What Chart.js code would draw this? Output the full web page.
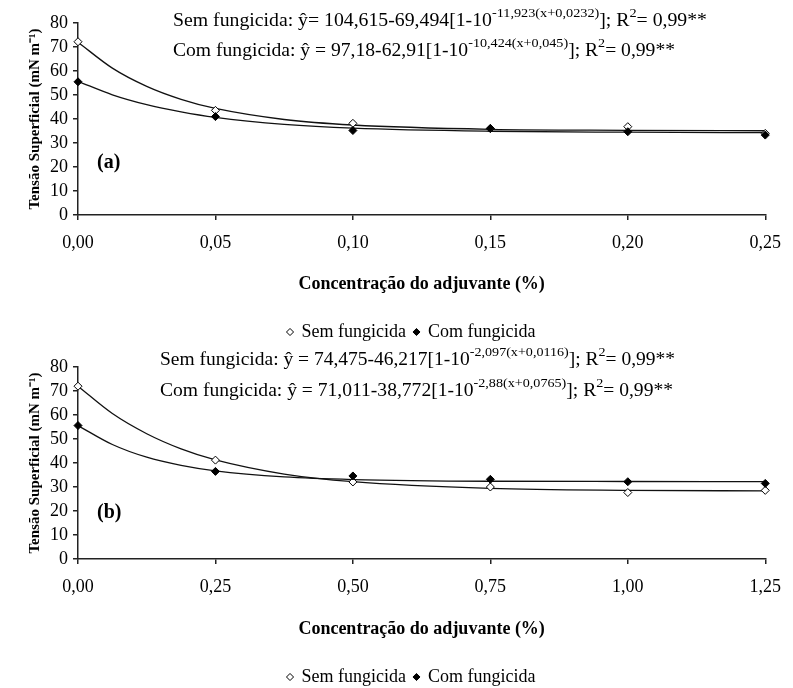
<!DOCTYPE html>
<html>
<head>
<meta charset="utf-8">
<script src="https://cdn.jsdelivr.net/npm/chart.js@4"></script>
<style>
html,body{margin:0;padding:0;background:#fff;overflow:hidden;width:793px;height:688px}
canvas{position:absolute;left:0}
</style>
</head>
<body>
<canvas id="chartA" width="793" height="351" style="top:0"></canvas>
<canvas id="chartB" width="793" height="352" style="top:344px"></canvas>
<script>
// ── Data: panel (a) ──────────────────────────
const xTicksA = [0, 0.05, 0.10, 0.15, 0.20, 0.25];
const semObsA = [72.2, 43.6, 38.2, 36.0, 36.8, 34.0];
const comObsA = [55.5, 41.0, 35.2, 36.1, 34.7, 33.3];
// fitted curves
const xCurveA = [0, 0.0125, 0.025, 0.0375, 0.05, 0.075, 0.10, 0.15, 0.20, 0.25];
const semFitA = [72.0, 61.2, 53.6, 48.2, 44.4, 39.8, 37.5, 35.7, 35.3, 35.1];
const comFitA = [55.7, 50.1, 46.0, 43.0, 40.7, 37.8, 36.2, 34.9, 34.5, 34.3];

// ── Data: panel (b) ──────────────────────────
const xTicksB = [0, 0.25, 0.50, 0.75, 1.00, 1.25];
const semObsB = [72.0, 41.2, 32.1, 30.0, 27.7, 28.6];
const comObsB = [55.6, 36.5, 34.6, 33.2, 32.2, 31.5];
const xCurveB = [0, 0.0625, 0.125, 0.1875, 0.25, 0.375, 0.50, 0.75, 1.00, 1.25];
const semFitB = [72.0, 60.6, 52.2, 45.9, 41.3, 35.4, 32.2, 29.4, 28.6, 28.4];
const comFitB = [55.6, 47.7, 42.4, 39.0, 36.7, 34.2, 33.1, 32.4, 32.3, 32.2];

const yTicks = [0, 10, 20, 30, 40, 50, 60, 70, 80];

// ── Texts ────────────────────────────────────
const eqA = [
  [['Sem fungicida: ŷ= 104,615-69,494[1-10',0],['-11,923(x+0,0232)',1],[']; R',0],['2',1],['= 0,99**',0]],
  [['Com fungicida: ŷ = 97,18-62,91[1-10',0],['-10,424(x+0,045)',1],[']; R',0],['2',1],['= 0,99**',0]]
];
const eqB = [
  [['Sem fungicida: ŷ = 74,475-46,217[1-10',0],['-2,097(x+0,0116)',1],[']; R',0],['2',1],['= 0,99**',0]],
  [['Com fungicida: ŷ = 71,011-38,772[1-10',0],['-2,88(x+0,0765)',1],[']; R',0],['2',1],['= 0,99**',0]]
];

const serif = "'Liberation Serif','Times New Roman',serif";
const ink = '#000';
const axisInk = '#222';

const zip = (xs, ys) => xs.map((x, i) => ({x, y: ys[i]}));

function drawRich(ctx, parts, x, y, w) {
  const big = '18px ' + serif, small = '13px ' + serif;
  let total = 0;
  parts.forEach(([t, sup]) => { ctx.font = sup ? small : big; total += ctx.measureText(t).width; });
  ctx.save();
  ctx.translate(x, y);
  ctx.scale(w / total, 1);
  ctx.textBaseline = 'middle';
  ctx.fillStyle = ink;
  let cx = 0;
  parts.forEach(([t, sup]) => {
    ctx.font = sup ? small : big;
    ctx.fillText(t, cx, sup ? -8 : 0);
    cx += ctx.measureText(t).width;
  });
  ctx.restore();
}

const textPlugin = {
  id: 'panelText',
  afterDraw(chart, args, o) {
    const ctx = chart.ctx;
    o.lines.forEach(l => drawRich(ctx, l.parts, l.x, l.y, l.w));
    ctx.save();
    ctx.font = 'bold 20px ' + serif;
    ctx.fillStyle = ink;
    ctx.textBaseline = 'middle';
    ctx.fillText(o.tag, 97, o.tagY);
    ctx.restore();
  }
};

function makeChart(id, h, xs, xMax, step, semObs, comObs, xc, semFit, comFit, textOpts) {
  return new Chart(document.getElementById(id), {
    type: 'line',
    data: {
      datasets: [
        {label: 'Sem fungicida', data: zip(xs, semObs), showLine: false, order: 1, clip: false,
         pointStyle: 'rectRot', pointRadius: 4, pointBorderWidth: 1,
         pointBackgroundColor: '#fff', pointBorderColor: '#000', backgroundColor: '#fff', borderColor: '#000'},
        {label: 'Com fungicida', data: zip(xs, comObs), showLine: false, order: 0, clip: false,
         pointStyle: 'rectRot', pointRadius: 4, pointBorderWidth: 1,
         pointBackgroundColor: '#000', pointBorderColor: '#000', backgroundColor: '#000', borderColor: '#000'},
        {label: 'fitSem', data: zip(xc, semFit), order: 2, pointRadius: 0, clip: false,
         borderColor: '#111', borderWidth: 1.3, cubicInterpolationMode: 'monotone'},
        {label: 'fitCom', data: zip(xc, comFit), order: 3, pointRadius: 0, clip: false,
         borderColor: '#111', borderWidth: 1.3, cubicInterpolationMode: 'monotone'}
      ]
    },
    options: {
      responsive: false, animation: false, devicePixelRatio: 1,
      // left padding shifts the legend centre to match the reference
      layout: {padding: {top: 23, right: 18, left: 48, bottom: 0}},
      scales: {
        x: {
          type: 'linear', min: 0, max: xMax,
          afterFit: s => { s.height = h - 36 - 215; },
          ticks: {stepSize: step, autoSkip: false, maxRotation: 0, padding: 12, color: ink,
                  font: {family: serif, size: 18},
                  callback: v => v.toFixed(2).replace('.', ',')},
          grid: {drawOnChartArea: false, tickLength: 5, color: axisInk, lineWidth: 1.5},
          border: {color: axisInk, width: 1.5},
          title: {display: true, text: 'Concentração do adjuvante (%)', color: ink,
                  font: {family: serif, size: 18, weight: 'bold'}, padding: {top: 0, bottom: 20}}
        },
        y: {
          min: 0, max: 80,
          afterFit: s => { s.width = 30; },
          afterBuildTicks: s => { s.ticks = yTicks.map(v => ({value: v})); },
          ticks: {autoSkip: false, padding: 5, color: ink, font: {family: serif, size: 18}},
          grid: {drawOnChartArea: false, tickLength: 5, color: axisInk, lineWidth: 1.5},
          border: {color: axisInk, width: 1.5},
          title: {display: true, text: 'Tensão Superficial (mN m⁻¹)', color: ink,
                  font: {family: serif, size: 15, weight: 'bold'}, padding: {top: -22, bottom: 0}}
        }
      },
      plugins: {
        legend: {
          position: 'bottom',
          labels: {usePointStyle: true, boxWidth: 5, boxHeight: 5, padding: 8, color: ink,
                   font: {family: serif, size: 18},
                   filter: item => item.datasetIndex < 2,
                   sort: (a, b) => a.datasetIndex - b.datasetIndex}
        },
        tooltip: {enabled: false},
        panelText: textOpts
      }
    },
    plugins: [textPlugin]
  });
}

makeChart('chartA', 351, xTicksA, 0.25, 0.05, semObsA, comObsA, xCurveA, semFitA, comFitA, {
  tag: '(a)', tagY: 163,
  lines: [
    {parts: eqA[0], x: 173, y: 21.7, w: 534},
    {parts: eqA[1], x: 173, y: 51.7, w: 502}
  ]
});

makeChart('chartB', 352, xTicksB, 1.25, 0.25, semObsB, comObsB, xCurveB, semFitB, comFitB, {
  tag: '(b)', tagY: 169,
  lines: [
    {parts: eqB[0], x: 160, y: 16.7, w: 515},
    {parts: eqB[1], x: 160, y: 47.7, w: 513}
  ]
});
</script>
</body>
</html>
